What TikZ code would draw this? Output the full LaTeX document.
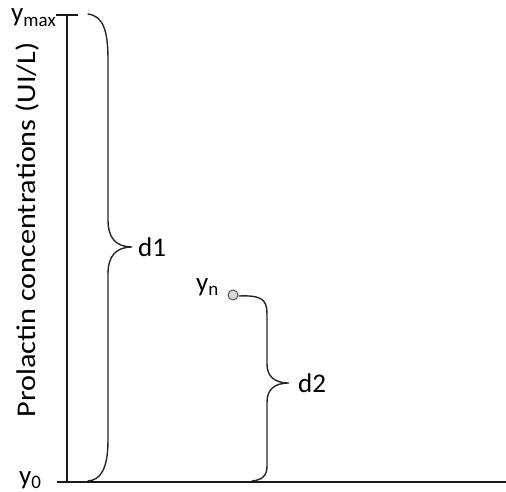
\documentclass[tikz,border=0pt]{standalone}
\usepackage{fontspec}
\setmainfont{Carlito}
\newcommand{\subtx}[1]{\raisebox{-0.15em}{\fontsize{19}{21}\selectfont #1}}
\begin{document}
\begin{tikzpicture}[x=1pt,y=-1pt,
  axis/.style={line width=2.6pt,black!90},
  brace/.style={line width=1.4pt,black!85,line cap=round},
  lbl/.style={font=\fontsize{27}{30}\selectfont,inner sep=0pt}]
\useasboundingbox (0,0) rectangle (506,492);
% axes
\coordinate (top) at (67,15);
\coordinate (orig) at (67,482);
\coordinate (xend) at (506,482);
\coordinate (tl) at (56,15);
\coordinate (tr) at (78,15);
\coordinate (ol) at (57,482);
\draw[axis] (tl) -- (tr);
\draw[axis] (top) -- (orig);
\draw[axis] (ol) -- (xend);
% labels
\node[lbl,anchor=base west] (ymax) at (11,22) {y\subtx{max}};
\node[lbl,anchor=base west] (y0) at (19,484) {y\subtx{0}};
\node[lbl,rotate=90,xscale=1.12] (ylab) at (27,230) {Prolactin concentrations (UI/L)};
% y_n point
\node[circle,draw=black!70,fill=black!15,line width=0.9pt,minimum size=10pt,inner sep=0pt] (pt) at (233,295) {};
\node[lbl,anchor=base west] (yn) at (196,291) {y\subtx{n}};
% brace d1
\coordinate (b1t) at (88,14);
\coordinate (b1tip) at (132,247);
\coordinate (b1b) at (88,481);
\draw[brace] (b1t) .. controls (103,16) and (108,30) .. (108,60)
  -- (108,220) .. controls (108,238) and (116,247) .. (b1tip)
  .. controls (116,247) and (108,256) .. (108,274)
  -- (108,440) .. controls (108,470) and (100,480) .. (b1b);
\node[lbl,anchor=west] (d1) at (138,247) {d1};
% brace d2
\coordinate (b2t) at (239,296);
\coordinate (b2tip) at (289,383);
\coordinate (b2b) at (252,481);
\draw[brace] (b2t) .. controls (262,295) and (267,300) .. (267,314)
  -- (267,364) .. controls (267,376) and (274,383) .. (b2tip)
  .. controls (274,383) and (267,390) .. (267,402)
  -- (267,466) .. controls (267,476) and (262,480) .. (b2b);
\node[lbl,anchor=west] (d2) at (298,383) {d2};
\end{tikzpicture}
\end{document}
